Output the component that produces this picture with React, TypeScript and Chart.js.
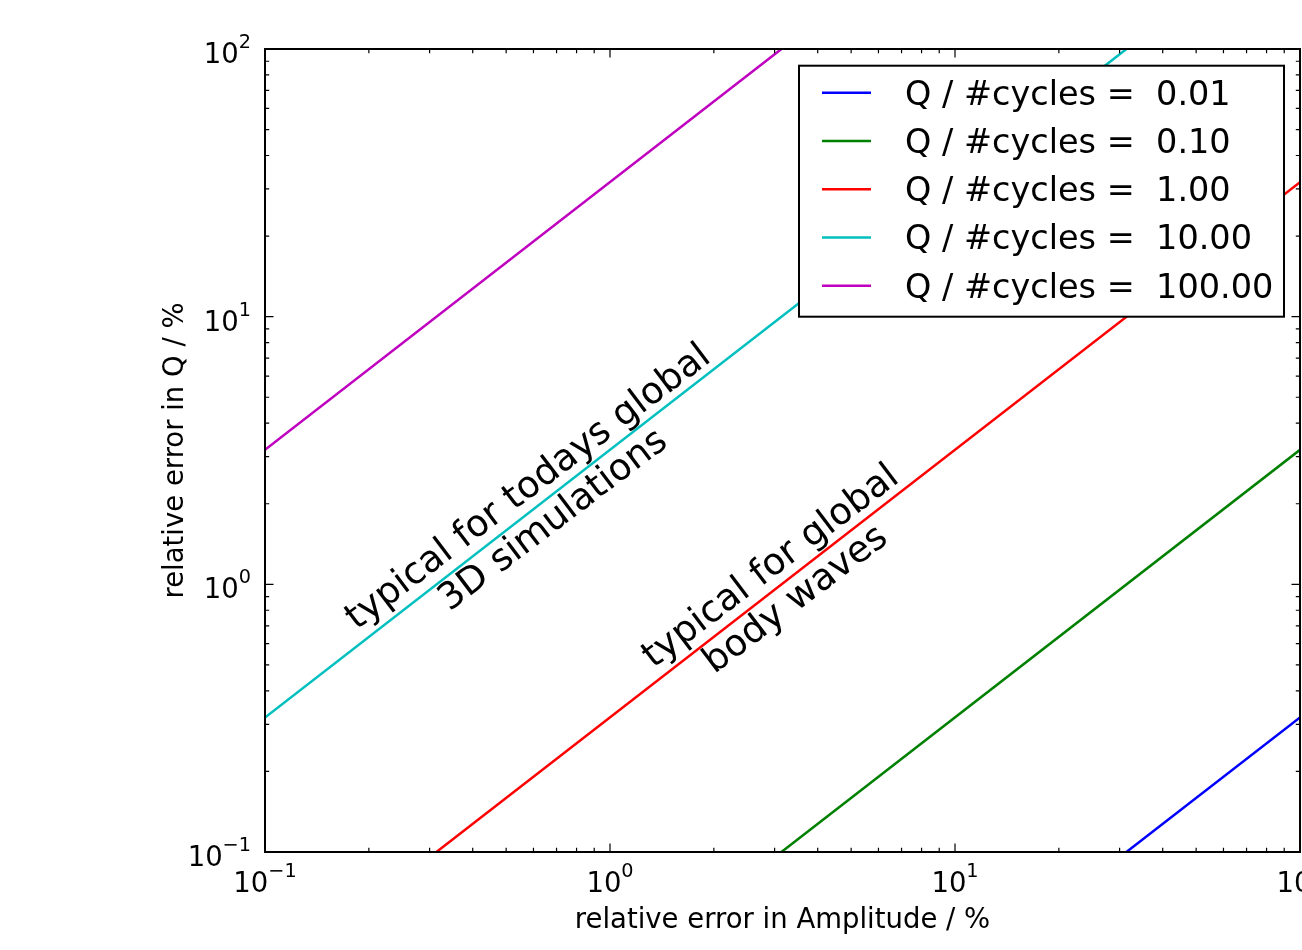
import React, { useEffect, useRef } from "react";
import { Chart, registerables } from "chart.js";

Chart.register(...registerables);

// Q / #cycles ratio of each curve and its colour
const cyclesRatios = [0.01, 0.1, 1, 10, 100];
const seriesColors = ["#0000ff", "#008000", "#ff0000", "#00bfbf", "#bf00bf"];

// End points of each straight curve (relative errors in %)
const ampErrStart = [31.4, 3.14, 0.314, 0.1, 0.1];
const ampErrEnd = [100, 100, 100, 31.4, 3.14];
const qErrStart = [0.1, 0.1, 0.1, 0.318, 3.18];
const qErrEnd = [0.318, 3.18, 31.8, 100, 100];

// Log axis ticks
const majorTicks = [0.1, 1, 10, 100];
const majorTickPowers = ["\u2212" + "1", "0", "1", "2"];
const minorTicks = [
  0.2, 0.3, 0.4, 0.5, 0.6, 0.7, 0.8, 0.9,
  2, 3, 4, 5, 6, 7, 8, 9,
  20, 30, 40, 50, 60, 70, 80, 90,
];

const xTitle = "relative error in Amplitude / %";
const yTitle = "relative error in Q / %";

// In-plot notes, anchored at (amplitude error, Q error)
const noteSimLines = ["typical for todays global", "3D simulations"];
const noteSimAt = [0.63, 2.0];
const noteBodyLines = ["typical for global", "body waves"];
const noteBodyAt = [3.18, 1.01];
const noteAngleDeg = 37.2;

const FONT = '"DejaVu Sans", "Liberation Sans", sans-serif';

const framePlugin = {
  id: "framePlugin",
  afterDatasetsDraw(chart: any) {
    const ctx: CanvasRenderingContext2D = chart.ctx;
    const area = chart.chartArea;
    const xs = chart.scales.x;
    const ys = chart.scales.y;
    ctx.save();

    // ---- legend box (opaque, covers curves) ----
    const lgRight = area.right - 16;
    const lgLeft = lgRight - 485;
    const lgTop = area.top + 16.7;
    const lgH = 251;
    ctx.fillStyle = "#ffffff";
    ctx.fillRect(lgLeft, lgTop, lgRight - lgLeft, lgH);
    ctx.lineWidth = 2;
    ctx.strokeStyle = "#000000";
    ctx.strokeRect(lgLeft, lgTop, lgRight - lgLeft, lgH);
    chart.data.datasets.forEach((ds: any, i: number) => {
      const rowY = lgTop + 27 + i * 48.25;
      ctx.beginPath();
      ctx.strokeStyle = ds.borderColor;
      ctx.lineWidth = 2.5;
      ctx.moveTo(lgLeft + 23, rowY);
      ctx.lineTo(lgLeft + 72, rowY);
      ctx.stroke();
      ctx.fillStyle = "#000000";
      ctx.font = `33.5px ${FONT}`;
      ctx.textAlign = "left";
      ctx.textBaseline = "alphabetic";
      ctx.fillText(ds.label, lgLeft + 106, rowY + 12);
    });

    // ---- frame ----
    ctx.strokeStyle = "#000000";
    ctx.lineWidth = 2;
    ctx.strokeRect(area.left, area.top, area.right - area.left, area.bottom - area.top);

    // ---- inward tick marks on all four sides ----
    ctx.lineWidth = 1.2;
    const drawTicks = (vals: number[], len: number) => {
      vals.forEach((v) => {
        const px = xs.getPixelForValue(v);
        ctx.beginPath();
        ctx.moveTo(px, area.bottom);
        ctx.lineTo(px, area.bottom - len);
        ctx.moveTo(px, area.top);
        ctx.lineTo(px, area.top + len);
        const py = ys.getPixelForValue(v);
        ctx.moveTo(area.left, py);
        ctx.lineTo(area.left + len, py);
        ctx.moveTo(area.right, py);
        ctx.lineTo(area.right - len, py);
        ctx.stroke();
      });
    };
    drawTicks(majorTicks, 8.5);
    drawTicks(minorTicks, 4.2);

    // ---- tick labels: 10 with a raised power ----
    const mainFont = `27.5px ${FONT}`;
    const supFont = `19.25px ${FONT}`;
    ctx.fillStyle = "#000000";
    ctx.textAlign = "left";
    ctx.textBaseline = "alphabetic";
    majorTicks.forEach((v, i) => {
      const pow = majorTickPowers[i];
      ctx.font = mainFont;
      const wMain = ctx.measureText("10").width;
      ctx.font = supFont;
      const wSup = ctx.measureText(pow).width;
      const total = wMain + wSup;

      // x axis
      const px = xs.getPixelForValue(v);
      const bx = px - total / 2;
      const by = area.bottom + 40;
      ctx.font = mainFont;
      ctx.fillText("10", bx, by);
      ctx.font = supFont;
      ctx.fillText(pow, bx + wMain, by - 15);

      // y axis
      const py = ys.getPixelForValue(v);
      const rx = area.left - 14 - total;
      const ry = py + 14;
      ctx.font = mainFont;
      ctx.fillText("10", rx, ry);
      ctx.font = supFont;
      ctx.fillText(pow, rx + wMain, ry - 15);
    });

    // ---- axis titles ----
    ctx.font = mainFont;
    ctx.textAlign = "center";
    ctx.fillText(xTitle, (area.left + area.right) / 2, 928);
    ctx.save();
    ctx.translate(183, (area.top + area.bottom) / 2);
    ctx.rotate(-Math.PI / 2);
    ctx.fillText(yTitle, 0, 0);
    ctx.restore();

    // ---- rotated notes along the curves ----
    const theta = (noteAngleDeg * Math.PI) / 180;
    const fs = 37;
    const drawNote = (lines: string[], at: number[]) => {
      ctx.save();
      ctx.translate(xs.getPixelForValue(at[0]), ys.getPixelForValue(at[1]));
      ctx.rotate(-theta);
      ctx.font = `${fs}px ${FONT}`;
      ctx.textAlign = "center";
      ctx.textBaseline = "alphabetic";
      ctx.fillStyle = "#000000";
      ctx.fillText(lines[0], 0, -0.284 * fs);
      ctx.fillText(lines[1], 0, 0.836 * fs);
      ctx.restore();
    };
    drawNote(noteSimLines, noteSimAt);
    drawNote(noteBodyLines, noteBodyAt);

    ctx.restore();
  },
};

export default function App() {
  const canvasRef = useRef<HTMLCanvasElement>(null);

  useEffect(() => {
    const canvas = canvasRef.current;
    if (!canvas) return;
    const chart = new Chart(canvas, {
      type: "line",
      data: {
        datasets: cyclesRatios.map((q, i) => ({
          label: `Q / #cycles =  ${q.toFixed(2)}`,
          data: [
            { x: ampErrStart[i], y: qErrStart[i] },
            { x: ampErrEnd[i], y: qErrEnd[i] },
          ],
          borderColor: seriesColors[i],
          backgroundColor: seriesColors[i],
          borderWidth: 2.5,
          pointRadius: 0,
          fill: false,
          tension: 0,
        })),
      },
      options: {
        responsive: false,
        animation: false,
        devicePixelRatio: 1,
        events: [],
        layout: { padding: { left: 265, top: 49, right: 100, bottom: 98 } },
        plugins: {
          legend: { display: false },
          tooltip: { enabled: false },
        },
        scales: {
          x: { type: "logarithmic", min: 0.1, max: 100, display: false },
          y: { type: "logarithmic", min: 0.1, max: 100, display: false },
        },
      },
      plugins: [framePlugin],
    } as any);
    return () => chart.destroy();
  }, []);

  return (
    <div
      style={{
        position: "fixed",
        left: 0,
        top: 0,
        width: 1302,
        height: 950,
        overflow: "hidden",
        background: "#ffffff",
      }}
    >
      <canvas
        ref={canvasRef}
        width={1400}
        height={950}
        style={{ width: 1400, height: 950, display: "block" }}
      />
    </div>
  );
}
